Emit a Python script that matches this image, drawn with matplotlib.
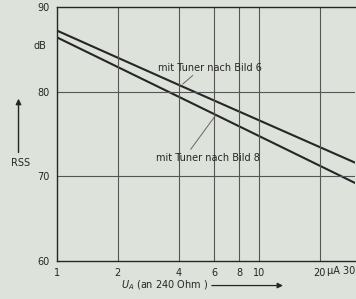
import matplotlib.pyplot as plt

ua_werte = [1, 4, 30]
rss_bild6 = [87.2, 80.8, 71.6]
rss_bild8 = [86.4, 79.4, 69.2]

x_ticks = [1, 2, 4, 6, 8, 10, 20]
x_labels = ["1", "2", "4", "6", "8", "10", "20"]
y_ticks = [60, 70, 80, 90]

bg = "#dde2db"
ink = "#262626"

fig = plt.figure(figsize=(3.56, 2.99), dpi=100, facecolor=bg)
ax = fig.add_axes([0.160, 0.127, 0.838, 0.850], facecolor=bg)

ax.plot(ua_werte, rss_bild6, color=ink, lw=1.5)
ax.plot(ua_werte, rss_bild8, color=ink, lw=1.5)

ax.set_xscale("log")
ax.set_xlim(1, 30)
ax.set_ylim(60, 90)
ax.set_xticks(x_ticks)
ax.set_xticklabels(x_labels)
ax.minorticks_off()
ax.set_yticks(y_ticks)
ax.tick_params(length=0, colors=ink, labelsize=7, pad=5)

# Gitter
for xv in x_ticks[1:]:
    ax.axvline(xv, color="#555555", lw=0.8)
for yv in [70, 80]:
    ax.axhline(yv, color="#555555", lw=0.8)

for s in ["left", "bottom", "top"]:
    ax.spines[s].set_color(ink)
    ax.spines[s].set_linewidth(1.0)
ax.spines["right"].set_visible(False)

# Beschriftungen
ax.text(1.0, -0.02, "µA 30", transform=ax.transAxes, ha="right", va="top",
        fontsize=7, color=ink)
ax.text(-0.035, 0.845, "dB", transform=ax.transAxes, ha="right", va="center",
        fontsize=7, color=ink)
fig.text(0.057, 0.455, "RSS", ha="center", va="center", fontsize=7, color=ink)
ax.annotate("", xy=(0.052, 0.67), xytext=(0.052, 0.49), xycoords="figure fraction",
            arrowprops=dict(arrowstyle="-|>", color=ink, lw=1.0, mutation_scale=8,
                            shrinkA=0, shrinkB=0))

fig.text(0.34, 0.045, "$U_A$ (an 240 Ohm )", ha="left", va="center",
         fontsize=7, color=ink)
ax.annotate("", xy=(0.795, 0.045), xytext=(0.595, 0.045), xycoords="figure fraction",
            arrowprops=dict(arrowstyle="-|>", color=ink, lw=0.9, mutation_scale=8,
                            shrinkA=0, shrinkB=0))

ax.text(3.15, 82.8, "mit Tuner nach Bild 6", fontsize=7, color=ink, ha="left", va="center")
ax.plot([4.7, 4.2], [81.9, 80.9], color="#666666", lw=0.7)
ax.text(3.1, 72.2, "mit Tuner nach Bild 8", fontsize=7, color=ink, ha="left", va="center")
ax.plot([4.6, 6.06], [73.2, 77.1], color="#666666", lw=0.7)

fig.savefig("out.png", dpi=100, facecolor=bg)
